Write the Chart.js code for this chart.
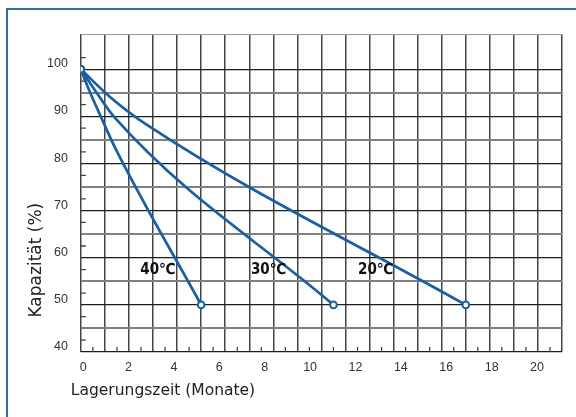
<!DOCTYPE html>
<html lang="de">
<head>
  <meta charset="UTF-8" />
  <title>Kapazität über Lagerungszeit</title>
  <script src="https://cdn.jsdelivr.net/npm/chart.js"></script>
</head>
<body style="margin: 0; padding: 0; background: #fff; width: 576px; height: 417px; overflow: hidden; position: relative;">

  <div style="position: absolute; left: 6px; top: 8px; right: 0; bottom: 0; border-left: 2px solid #2d6db5; border-top: 2px solid #2d6db5;"></div>
  <div style="position: absolute; left: 0; top: 0; width: 576px; height: 417px;">
    <canvas id="chart"></canvas>
  </div>

  <script>
    // Monate / Kapazität (%) je Temperatur
    const months40 = [0, 0.35, 0.8, 1.4, 5];
    const cap40 = [100, 95.5, 90.3, 83.6, 50];
    const months30 = [0, 0.5, 1.4, 10.5];
    const cap30 = [100, 96.2, 89.8, 50];
    const months20 = [0, 1.2, 2.75, 16];
    const cap20 = [100, 94.2, 88.2, 50];

    const seriesNames = ['40℃', '30℃', '20℃'];
    const xTickLabels = [0, 2, 4, 6, 8, 10, 12, 14, 16, 18, 20];
    const yTickLabels = [40, 50, 60, 70, 80, 90, 100];

    const blue = '#1660ab';
    const tickFont = { family: "'Liberation Sans', Arial, sans-serif", size: 12.5 };

    const toPoints = (xs, ys) => xs.map((x, i) => ({ x: x, y: ys[i] }));

    const endPoint = ctx => (ctx.dataIndex === 0 || ctx.dataIndex === ctx.dataset.data.length - 1) ? 3.3 : 0;

    const makeSet = (name, xs, ys) => ({
      label: name,
      data: toPoints(xs, ys),
      xAxisID: 'x',
      yAxisID: 'y',
      borderColor: blue,
      borderWidth: 2.7,
      cubicInterpolationMode: 'monotone',
      pointRadius: endPoint,
      pointBorderWidth: 2,
      pointBorderColor: blue,
      pointBackgroundColor: '#fff',
      fill: false
    });

    // minor ticks, series labels and axis titles
    const extras = {
      id: 'extras',
      afterDraw(chart) {
        const { ctx, chartArea, scales } = chart;
        const x = scales.x, y = scales.y;
        ctx.save();
        ctx.strokeStyle = '#444';
        ctx.lineWidth = 1.3;
        ctx.beginPath();
        for (let m = 0.5; m < 20; m += 1) {
          const px = x.getPixelForValue(m);
          ctx.moveTo(px, chartArea.bottom);
          ctx.lineTo(px, chartArea.bottom - 5);
        }
        for (let v = 42.5; v < 105; v += 5) {
          const py = y.getPixelForValue(v);
          ctx.moveTo(chartArea.left, py);
          ctx.lineTo(chartArea.left + 5, py);
        }
        ctx.stroke();

        const labelX = [3.2, 7.8, 12.25];
        ctx.fillStyle = '#111';
        ctx.font = "bold 15px 'DejaVu Sans Condensed', 'DejaVu Sans', sans-serif";
        ctx.textAlign = 'center';
        ctx.textBaseline = 'middle';
        seriesNames.forEach((name, i) => {
          ctx.fillText(name, x.getPixelForValue(labelX[i]), y.getPixelForValue(57.3));
        });

        ctx.fillStyle = '#222';
        ctx.font = "15.5px 'DejaVu Sans', sans-serif";
        ctx.textAlign = 'left';
        ctx.fillText('Lagerungszeit (Monate)', chartArea.left - 10, 391);

        ctx.font = "17px 'DejaVu Sans', sans-serif";
        ctx.textAlign = 'center';
        ctx.translate(chartArea.left - 44, y.getPixelForValue(59.5));
        ctx.rotate(-Math.PI / 2);
        ctx.fillText('Kapazität (%)', 0, 0);
        ctx.restore();
      }
    };

    new Chart(document.getElementById('chart'), {
      type: 'line',
      data: {
        datasets: [
          makeSet(seriesNames[0], months40, cap40),
          makeSet(seriesNames[1], months30, cap30),
          makeSet(seriesNames[2], months20, cap20)
        ]
      },
      options: {
        responsive: true,
        maintainAspectRatio: false,
        animation: false,
        layout: { padding: { left: 34, right: 14, top: 34, bottom: 42 } },
        plugins: {
          legend: { display: false },
          tooltip: { enabled: false }
        },
        scales: {
          x: {
            type: 'linear',
            position: 'bottom',
            min: 0,
            max: 20,
            ticks: { stepSize: 1, display: false },
            grid: { color: '#444', lineWidth: 1.5, drawTicks: false },
            border: { display: false }
          },
          xl: {
            type: 'linear',
            position: 'bottom',
            min: -0.1,
            max: 21.1,
            afterBuildTicks: scale => { scale.ticks = xTickLabels.map(v => ({ value: v })); },
            ticks: { autoSkip: false, maxRotation: 0, padding: 0, color: '#333', font: tickFont },
            grid: { display: false },
            border: { display: false }
          },
          y: {
            type: 'linear',
            min: 40,
            max: 107.5,
            ticks: {
              stepSize: 5,
              padding: 13,
              labelOffset: -5.5,
              color: '#333',
              font: tickFont,
              callback: v => yTickLabels.includes(v) ? v : ''
            },
            grid: {
              drawTicks: false,
              color: ctx => ctx.tick.value > 105 ? '#999' : (ctx.tick.value % 10 === 0 ? '#1e1e1e' : '#808080'),
              lineWidth: ctx => ctx.tick.value > 105 ? 1 : (ctx.tick.value % 10 === 0 ? 1.2 : 2)
            },
            border: { display: false }
          }
        }
      },
      plugins: [extras]
    });
  </script>
</body>
</html>
